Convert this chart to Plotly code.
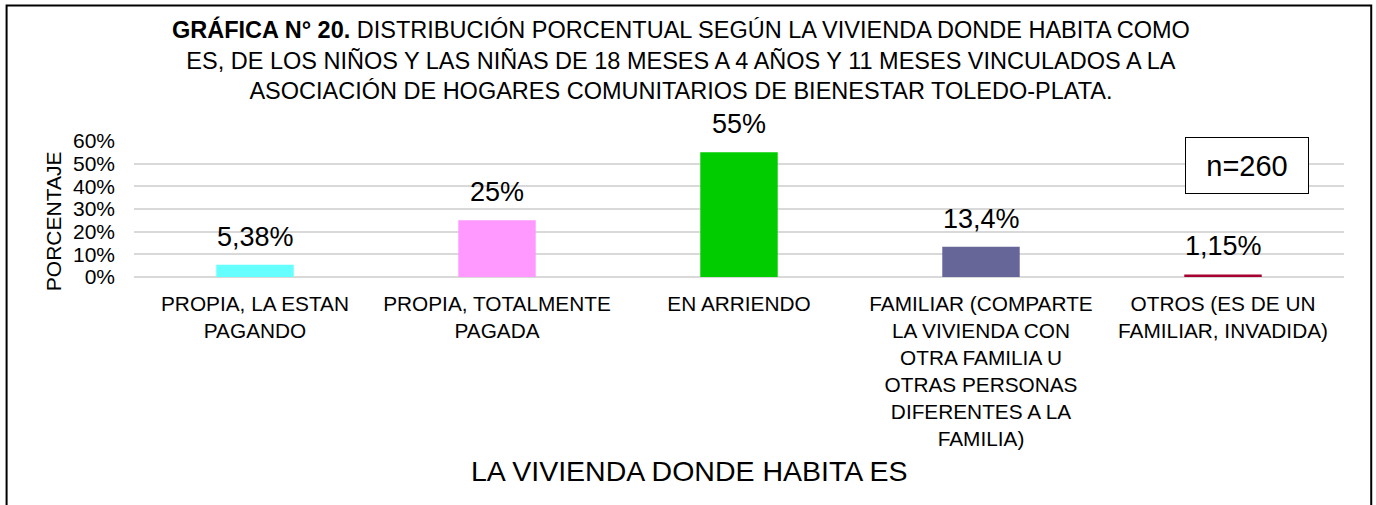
import plotly.graph_objects as go

categories = [
    "PROPIA, LA ESTAN<br>PAGANDO",
    "PROPIA, TOTALMENTE<br>PAGADA",
    "EN ARRIENDO",
    "FAMILIAR (COMPARTE<br>LA VIVIENDA CON<br>OTRA FAMILIA U<br>OTRAS PERSONAS<br>DIFERENTES A LA<br>FAMILIA)",
    "OTROS (ES DE UN<br>FAMILIAR, INVADIDA)",
]
values = [5.38, 25, 55, 13.4, 1.15]
colors = ["#66FFFF", "#FF99FF", "#00CC00", "#666699", "#A5002F"]
y_ticks = [0, 10, 20, 30, 40, 50, 60]
y_ticklabels = [f"{v}%" for v in y_ticks]

title_html = ("<b>GRÁFICA N° 20.</b> DISTRIBUCIÓN PORCENTUAL SEGÚN LA VIVIENDA DONDE HABITA COMO<br>"
              "ES, DE LOS NIÑOS Y LAS NIÑAS DE 18 MESES A 4 AÑOS Y 11 MESES VINCULADOS A LA<br>"
              "ASOCIACIÓN DE HOGARES COMUNITARIOS DE BIENESTAR TOLEDO-PLATA.")
x_title = "LA VIVIENDA DONDE HABITA ES"
y_title = "PORCENTAJE"
n_text = "n=260"

FONT = "Liberation Sans, Arial, sans-serif"

fig = go.Figure()
fig.add_trace(go.Bar(
    x=list(range(len(categories))), y=values,
    marker=dict(color=colors, line=dict(width=0)),
    width=0.32, hoverinfo="skip",
))

def fmt(v):
    return f"{v:g}".replace(".", ",") + "%"

annotations = []
for i, v in enumerate(values):
    annotations.append(dict(
        x=i, y=v, xref="x", yref="y", text=fmt(v), showarrow=False,
        yanchor="bottom", yshift=11, font=dict(size=27, color="black", family=FONT),
    ))

annotations.append(dict(
    x=0.452, y=1.596, xref="paper", yref="paper", text=title_html, showarrow=False,
    xanchor="center", yanchor="middle", align="center",
    font=dict(size=23.5, color="black", family=FONT),
))
annotations.append(dict(
    x=0.4587, y=-1.426, xref="paper", yref="paper", text=x_title, showarrow=False,
    xanchor="center", yanchor="middle", font=dict(size=28.5, color="black", family=FONT),
))
annotations.append(dict(
    x=-0.067, y=0.41, xref="paper", yref="paper", text=y_title, showarrow=False,
    textangle=-90, xanchor="center", yanchor="middle",
    font=dict(size=21, color="black", family=FONT),
))
annotations.append(dict(
    x=0.92, y=0.82, xref="paper", yref="paper", text=n_text, showarrow=False,
    xanchor="center", yanchor="middle", width=122, height=55, borderpad=0,
    bordercolor="black", borderwidth=1, bgcolor="white",
    font=dict(size=29, color="black", family=FONT),
))

fig.update_layout(
    width=1376, height=505,
    margin=dict(l=134, r=32, t=141, b=228),
    paper_bgcolor="white", plot_bgcolor="white",
    showlegend=False,
    font=dict(family=FONT, color="black"),
    annotations=annotations,
    shapes=[dict(type="rect", xref="paper", yref="paper",
                 x0=-0.1053, x1=1.0225, y0=-1.85, y1=1.997,
                 line=dict(color="black", width=2), fillcolor="rgba(0,0,0,0)", layer="below")],
    xaxis=dict(
        tickmode="array", tickvals=list(range(len(categories))), ticktext=categories,
        range=[-0.5, len(categories) - 0.5], showgrid=False, zeroline=False,
        showline=False, ticks="", tickfont=dict(size=20.8, color="black", family=FONT),
        ticklabelstandoff=12,
    ),
    yaxis=dict(
        tickmode="array", tickvals=y_ticks, ticktext=y_ticklabels, range=[0, 60],
        showgrid=True, gridcolor="#D9D9D9", gridwidth=2, zeroline=True,
        zerolinecolor="#D9D9D9", zerolinewidth=2, showline=False, ticks="",
        tickfont=dict(size=21, color="black", family=FONT), ticklabelstandoff=18,
    ),
)

fig.write_html("out.html", config={"displayModeBar": False},
               post_script="document.body.style.margin='0';")
